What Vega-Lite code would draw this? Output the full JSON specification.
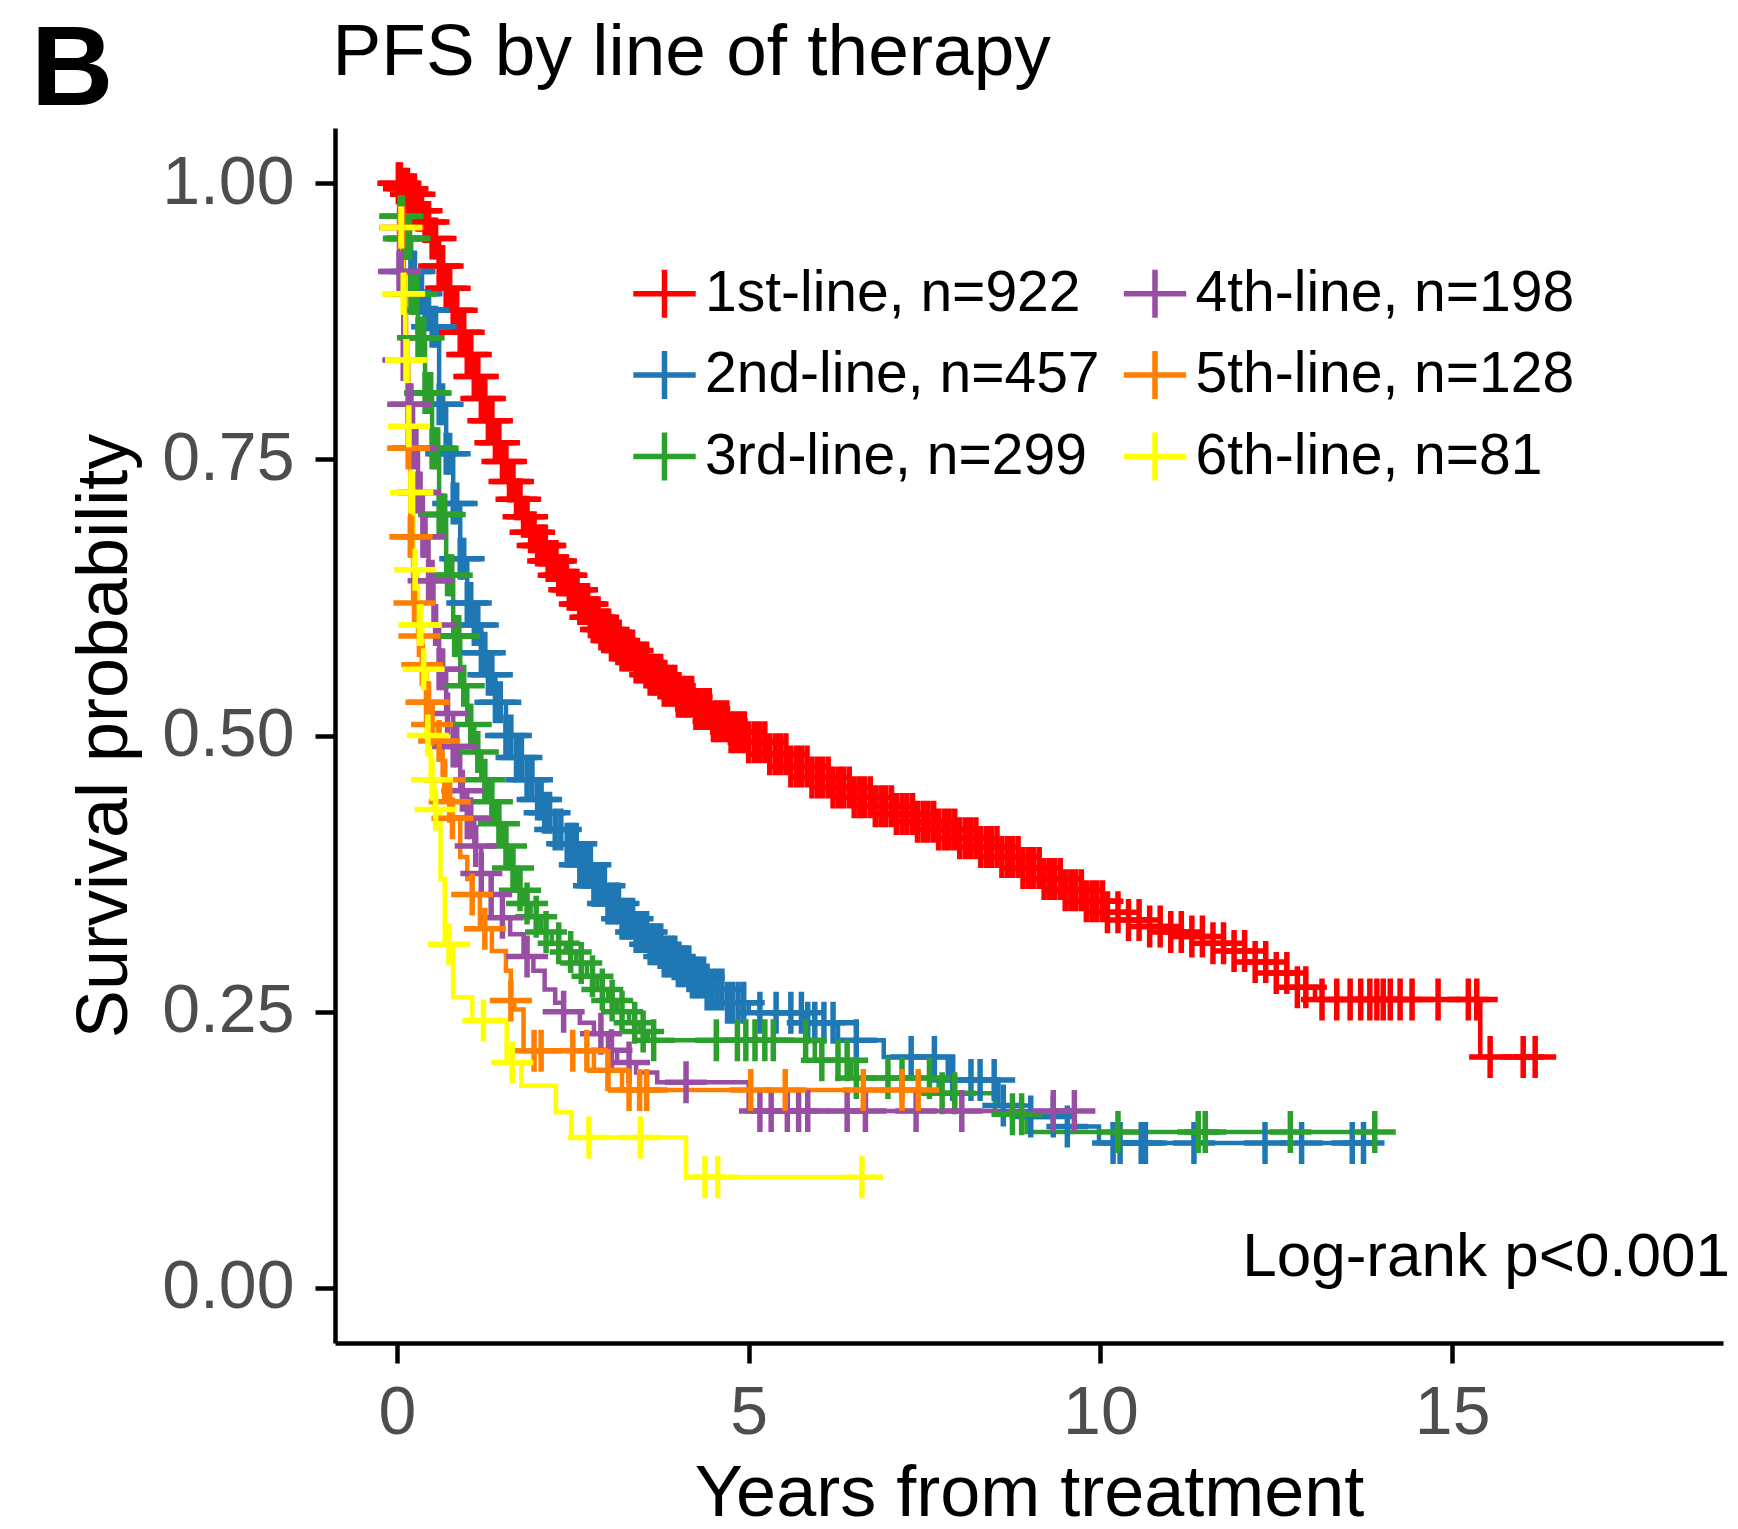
{
"$schema": "https://vega.github.io/schema/vega-lite/v6.json",
"width": 1388,
"height": 1215,
"autosize": {"type": "none"},
"padding": {"left": 335, "top": 128, "right": 15, "bottom": 186},
"background": "white",
"config": {"view": {"stroke": null}, "font": "Liberation Sans"},
"datasets": {
"km": [
{"g":"1st-line, n=922","t":0,"s":1},{"g":"1st-line, n=922","t":0.1,"s":0.995},{"g":"1st-line, n=922","t":0.2,"s":0.99},{"g":"1st-line, n=922","t":0.3,"s":0.975},{"g":"1st-line, n=922","t":0.4,"s":0.965},{"g":"1st-line, n=922","t":0.5,"s":0.95},{"g":"1st-line, n=922","t":0.6,"s":0.925},{"g":"1st-line, n=922","t":0.7,"s":0.905},{"g":"1st-line, n=922","t":0.8,"s":0.885},{"g":"1st-line, n=922","t":0.9,"s":0.865},{"g":"1st-line, n=922","t":1.0,"s":0.845},{"g":"1st-line, n=922","t":1.1,"s":0.825},{"g":"1st-line, n=922","t":1.2,"s":0.805},{"g":"1st-line, n=922","t":1.3,"s":0.785},{"g":"1st-line, n=922","t":1.4,"s":0.765},{"g":"1st-line, n=922","t":1.5,"s":0.748},{"g":"1st-line, n=922","t":1.6,"s":0.73},{"g":"1st-line, n=922","t":1.7,"s":0.714},{"g":"1st-line, n=922","t":1.8,"s":0.698},{"g":"1st-line, n=922","t":1.9,"s":0.684},{"g":"1st-line, n=922","t":2.0,"s":0.672},{"g":"1st-line, n=922","t":2.15,"s":0.658},{"g":"1st-line, n=922","t":2.3,"s":0.645},{"g":"1st-line, n=922","t":2.45,"s":0.632},{"g":"1st-line, n=922","t":2.6,"s":0.619},{"g":"1st-line, n=922","t":2.75,"s":0.607},{"g":"1st-line, n=922","t":2.9,"s":0.596},{"g":"1st-line, n=922","t":3.05,"s":0.586},{"g":"1st-line, n=922","t":3.2,"s":0.577},{"g":"1st-line, n=922","t":3.4,"s":0.566},{"g":"1st-line, n=922","t":3.6,"s":0.555},{"g":"1st-line, n=922","t":3.8,"s":0.545},{"g":"1st-line, n=922","t":4.0,"s":0.535},{"g":"1st-line, n=922","t":4.25,"s":0.524},{"g":"1st-line, n=922","t":4.5,"s":0.513},{"g":"1st-line, n=922","t":4.75,"s":0.503},{"g":"1st-line, n=922","t":5.0,"s":0.494},{"g":"1st-line, n=922","t":5.3,"s":0.483},{"g":"1st-line, n=922","t":5.6,"s":0.472},{"g":"1st-line, n=922","t":5.9,"s":0.462},{"g":"1st-line, n=922","t":6.2,"s":0.453},{"g":"1st-line, n=922","t":6.5,"s":0.444},{"g":"1st-line, n=922","t":6.8,"s":0.436},{"g":"1st-line, n=922","t":7.1,"s":0.429},{"g":"1st-line, n=922","t":7.4,"s":0.422},{"g":"1st-line, n=922","t":7.7,"s":0.415},{"g":"1st-line, n=922","t":8.0,"s":0.407},{"g":"1st-line, n=922","t":8.3,"s":0.399},{"g":"1st-line, n=922","t":8.6,"s":0.39},{"g":"1st-line, n=922","t":8.9,"s":0.38},{"g":"1st-line, n=922","t":9.2,"s":0.37},{"g":"1st-line, n=922","t":9.5,"s":0.36},{"g":"1st-line, n=922","t":9.8,"s":0.35},{"g":"1st-line, n=922","t":10.1,"s":0.34},{"g":"1st-line, n=922","t":10.4,"s":0.333},{"g":"1st-line, n=922","t":10.7,"s":0.327},{"g":"1st-line, n=922","t":11.0,"s":0.322},{"g":"1st-line, n=922","t":11.3,"s":0.318},{"g":"1st-line, n=922","t":11.6,"s":0.312},{"g":"1st-line, n=922","t":11.9,"s":0.305},{"g":"1st-line, n=922","t":12.2,"s":0.295},{"g":"1st-line, n=922","t":12.5,"s":0.285},{"g":"1st-line, n=922","t":12.8,"s":0.272},{"g":"1st-line, n=922","t":13.05,"s":0.261},{"g":"1st-line, n=922","t":15.4,"s":0.209},{"g":"1st-line, n=922","t":16.18,"s":0.209},
{"g":"2nd-line, n=457","t":0,"s":1},{"g":"2nd-line, n=457","t":0.05,"s":0.97},{"g":"2nd-line, n=457","t":0.1,"s":0.95},{"g":"2nd-line, n=457","t":0.2,"s":0.92},{"g":"2nd-line, n=457","t":0.3,"s":0.9},{"g":"2nd-line, n=457","t":0.4,"s":0.885},{"g":"2nd-line, n=457","t":0.5,"s":0.87},{"g":"2nd-line, n=457","t":0.6,"s":0.8},{"g":"2nd-line, n=457","t":0.7,"s":0.755},{"g":"2nd-line, n=457","t":0.8,"s":0.71},{"g":"2nd-line, n=457","t":0.9,"s":0.66},{"g":"2nd-line, n=457","t":1.0,"s":0.62},{"g":"2nd-line, n=457","t":1.1,"s":0.6},{"g":"2nd-line, n=457","t":1.2,"s":0.575},{"g":"2nd-line, n=457","t":1.3,"s":0.555},{"g":"2nd-line, n=457","t":1.4,"s":0.53},{"g":"2nd-line, n=457","t":1.55,"s":0.5},{"g":"2nd-line, n=457","t":1.7,"s":0.48},{"g":"2nd-line, n=457","t":1.85,"s":0.46},{"g":"2nd-line, n=457","t":2.0,"s":0.442},{"g":"2nd-line, n=457","t":2.1,"s":0.43},{"g":"2nd-line, n=457","t":2.25,"s":0.415},{"g":"2nd-line, n=457","t":2.42,"s":0.402},{"g":"2nd-line, n=457","t":2.6,"s":0.383},{"g":"2nd-line, n=457","t":2.8,"s":0.364},{"g":"2nd-line, n=457","t":3.0,"s":0.348},{"g":"2nd-line, n=457","t":3.2,"s":0.334},{"g":"2nd-line, n=457","t":3.4,"s":0.322},{"g":"2nd-line, n=457","t":3.6,"s":0.311},{"g":"2nd-line, n=457","t":3.8,"s":0.3},{"g":"2nd-line, n=457","t":4.0,"s":0.291},{"g":"2nd-line, n=457","t":4.2,"s":0.281},{"g":"2nd-line, n=457","t":4.45,"s":0.27},{"g":"2nd-line, n=457","t":4.7,"s":0.258},{"g":"2nd-line, n=457","t":5.0,"s":0.249},{"g":"2nd-line, n=457","t":5.8,"s":0.24},{"g":"2nd-line, n=457","t":6.27,"s":0.224},{"g":"2nd-line, n=457","t":6.92,"s":0.209},{"g":"2nd-line, n=457","t":7.83,"s":0.188},{"g":"2nd-line, n=457","t":8.55,"s":0.165},{"g":"2nd-line, n=457","t":9.0,"s":0.155},{"g":"2nd-line, n=457","t":9.53,"s":0.146},{"g":"2nd-line, n=457","t":9.98,"s":0.131},{"g":"2nd-line, n=457","t":13.74,"s":0.131},
{"g":"3rd-line, n=299","t":0,"s":1},{"g":"3rd-line, n=299","t":0.05,"s":0.97},{"g":"3rd-line, n=299","t":0.1,"s":0.95},{"g":"3rd-line, n=299","t":0.2,"s":0.9},{"g":"3rd-line, n=299","t":0.3,"s":0.86},{"g":"3rd-line, n=299","t":0.4,"s":0.81},{"g":"3rd-line, n=299","t":0.5,"s":0.76},{"g":"3rd-line, n=299","t":0.6,"s":0.7},{"g":"3rd-line, n=299","t":0.7,"s":0.645},{"g":"3rd-line, n=299","t":0.8,"s":0.59},{"g":"3rd-line, n=299","t":0.9,"s":0.545},{"g":"3rd-line, n=299","t":1.0,"s":0.51},{"g":"3rd-line, n=299","t":1.1,"s":0.485},{"g":"3rd-line, n=299","t":1.2,"s":0.46},{"g":"3rd-line, n=299","t":1.3,"s":0.44},{"g":"3rd-line, n=299","t":1.4,"s":0.42},{"g":"3rd-line, n=299","t":1.5,"s":0.4},{"g":"3rd-line, n=299","t":1.6,"s":0.38},{"g":"3rd-line, n=299","t":1.7,"s":0.36},{"g":"3rd-line, n=299","t":1.8,"s":0.348},{"g":"3rd-line, n=299","t":1.9,"s":0.336},{"g":"3rd-line, n=299","t":2.05,"s":0.322},{"g":"3rd-line, n=299","t":2.2,"s":0.312},{"g":"3rd-line, n=299","t":2.4,"s":0.304},{"g":"3rd-line, n=299","t":2.55,"s":0.294},{"g":"3rd-line, n=299","t":2.7,"s":0.282},{"g":"3rd-line, n=299","t":2.85,"s":0.27},{"g":"3rd-line, n=299","t":3.0,"s":0.26},{"g":"3rd-line, n=299","t":3.13,"s":0.25},{"g":"3rd-line, n=299","t":3.3,"s":0.24},{"g":"3rd-line, n=299","t":3.45,"s":0.232},{"g":"3rd-line, n=299","t":3.57,"s":0.224},{"g":"3rd-line, n=299","t":5.94,"s":0.206},{"g":"3rd-line, n=299","t":6.46,"s":0.19},{"g":"3rd-line, n=299","t":7.7,"s":0.176},{"g":"3rd-line, n=299","t":8.5,"s":0.157},{"g":"3rd-line, n=299","t":8.95,"s":0.141},{"g":"3rd-line, n=299","t":13.9,"s":0.141},
{"g":"4th-line, n=198","t":0,"s":1},{"g":"4th-line, n=198","t":0.03,"s":0.92},{"g":"4th-line, n=198","t":0.09,"s":0.84},{"g":"4th-line, n=198","t":0.16,"s":0.8},{"g":"4th-line, n=198","t":0.23,"s":0.76},{"g":"4th-line, n=198","t":0.3,"s":0.72},{"g":"4th-line, n=198","t":0.37,"s":0.68},{"g":"4th-line, n=198","t":0.45,"s":0.64},{"g":"4th-line, n=198","t":0.52,"s":0.6},{"g":"4th-line, n=198","t":0.6,"s":0.56},{"g":"4th-line, n=198","t":0.7,"s":0.52},{"g":"4th-line, n=198","t":0.8,"s":0.49},{"g":"4th-line, n=198","t":0.9,"s":0.45},{"g":"4th-line, n=198","t":1.0,"s":0.425},{"g":"4th-line, n=198","t":1.1,"s":0.4},{"g":"4th-line, n=198","t":1.2,"s":0.375},{"g":"4th-line, n=198","t":1.34,"s":0.356},{"g":"4th-line, n=198","t":1.5,"s":0.335},{"g":"4th-line, n=198","t":1.61,"s":0.32},{"g":"4th-line, n=198","t":1.8,"s":0.3},{"g":"4th-line, n=198","t":1.94,"s":0.287},{"g":"4th-line, n=198","t":2.1,"s":0.27},{"g":"4th-line, n=198","t":2.25,"s":0.258},{"g":"4th-line, n=198","t":2.37,"s":0.25},{"g":"4th-line, n=198","t":2.6,"s":0.24},{"g":"4th-line, n=198","t":2.8,"s":0.23},{"g":"4th-line, n=198","t":3.0,"s":0.215},{"g":"4th-line, n=198","t":3.13,"s":0.204},{"g":"4th-line, n=198","t":3.4,"s":0.195},{"g":"4th-line, n=198","t":3.7,"s":0.186},{"g":"4th-line, n=198","t":5.0,"s":0.16},{"g":"4th-line, n=198","t":9.63,"s":0.16},
{"g":"5th-line, n=128","t":0,"s":1},{"g":"5th-line, n=128","t":0.05,"s":0.96},{"g":"5th-line, n=128","t":0.1,"s":0.9},{"g":"5th-line, n=128","t":0.13,"s":0.84},{"g":"5th-line, n=128","t":0.16,"s":0.76},{"g":"5th-line, n=128","t":0.19,"s":0.68},{"g":"5th-line, n=128","t":0.23,"s":0.62},{"g":"5th-line, n=128","t":0.3,"s":0.59},{"g":"5th-line, n=128","t":0.36,"s":0.564},{"g":"5th-line, n=128","t":0.42,"s":0.53},{"g":"5th-line, n=128","t":0.5,"s":0.51},{"g":"5th-line, n=128","t":0.58,"s":0.495},{"g":"5th-line, n=128","t":0.65,"s":0.46},{"g":"5th-line, n=128","t":0.72,"s":0.44},{"g":"5th-line, n=128","t":0.79,"s":0.425},{"g":"5th-line, n=128","t":0.9,"s":0.39},{"g":"5th-line, n=128","t":1.0,"s":0.37},{"g":"5th-line, n=128","t":1.07,"s":0.356},{"g":"5th-line, n=128","t":1.18,"s":0.325},{"g":"5th-line, n=128","t":1.35,"s":0.305},{"g":"5th-line, n=128","t":1.55,"s":0.287},{"g":"5th-line, n=128","t":1.62,"s":0.26},{"g":"5th-line, n=128","t":1.67,"s":0.252},{"g":"5th-line, n=128","t":1.8,"s":0.2145},{"g":"5th-line, n=128","t":2.8,"s":0.197},{"g":"5th-line, n=128","t":3.2,"s":0.179},{"g":"5th-line, n=128","t":7.41,"s":0.179},
{"g":"6th-line, n=81","t":0,"s":1},{"g":"6th-line, n=81","t":0.04,"s":0.96},{"g":"6th-line, n=81","t":0.08,"s":0.9},{"g":"6th-line, n=81","t":0.12,"s":0.84},{"g":"6th-line, n=81","t":0.16,"s":0.78},{"g":"6th-line, n=81","t":0.2,"s":0.72},{"g":"6th-line, n=81","t":0.24,"s":0.65},{"g":"6th-line, n=81","t":0.3,"s":0.6},{"g":"6th-line, n=81","t":0.36,"s":0.56},{"g":"6th-line, n=81","t":0.42,"s":0.5},{"g":"6th-line, n=81","t":0.48,"s":0.46},{"g":"6th-line, n=81","t":0.53,"s":0.433},{"g":"6th-line, n=81","t":0.62,"s":0.37},{"g":"6th-line, n=81","t":0.68,"s":0.311},{"g":"6th-line, n=81","t":0.8,"s":0.263},{"g":"6th-line, n=81","t":1.07,"s":0.242},{"g":"6th-line, n=81","t":1.56,"s":0.204},{"g":"6th-line, n=81","t":1.77,"s":0.183},{"g":"6th-line, n=81","t":2.26,"s":0.159},{"g":"6th-line, n=81","t":2.48,"s":0.136},{"g":"6th-line, n=81","t":4.11,"s":0.1},{"g":"6th-line, n=81","t":6.61,"s":0.1}
],
"cens": [
{"g":"1st-line, n=922","t":0.02,"s":1},{"g":"1st-line, n=922","t":0.05,"s":1},{"g":"1st-line, n=922","t":0.1,"s":0.995},{"g":"1st-line, n=922","t":0.15,"s":0.995},{"g":"1st-line, n=922","t":0.2,"s":0.99},{"g":"1st-line, n=922","t":0.25,"s":0.99},{"g":"1st-line, n=922","t":0.3,"s":0.975},{"g":"1st-line, n=922","t":0.35,"s":0.975},{"g":"1st-line, n=922","t":0.4,"s":0.965},{"g":"1st-line, n=922","t":0.45,"s":0.965},{"g":"1st-line, n=922","t":0.5,"s":0.95},{"g":"1st-line, n=922","t":0.55,"s":0.95},{"g":"1st-line, n=922","t":0.6,"s":0.925},{"g":"1st-line, n=922","t":0.65,"s":0.925},{"g":"1st-line, n=922","t":0.7,"s":0.905},{"g":"1st-line, n=922","t":0.75,"s":0.905},{"g":"1st-line, n=922","t":0.8,"s":0.885},{"g":"1st-line, n=922","t":0.85,"s":0.885},{"g":"1st-line, n=922","t":0.9,"s":0.865},{"g":"1st-line, n=922","t":0.95,"s":0.865},{"g":"1st-line, n=922","t":1.0,"s":0.845},{"g":"1st-line, n=922","t":1.05,"s":0.845},{"g":"1st-line, n=922","t":1.1,"s":0.825},{"g":"1st-line, n=922","t":1.15,"s":0.825},{"g":"1st-line, n=922","t":1.2,"s":0.805},{"g":"1st-line, n=922","t":1.25,"s":0.805},{"g":"1st-line, n=922","t":1.3,"s":0.785},{"g":"1st-line, n=922","t":1.35,"s":0.785},{"g":"1st-line, n=922","t":1.4,"s":0.765},{"g":"1st-line, n=922","t":1.45,"s":0.765},{"g":"1st-line, n=922","t":1.5,"s":0.748},{"g":"1st-line, n=922","t":1.55,"s":0.748},{"g":"1st-line, n=922","t":1.6,"s":0.73},{"g":"1st-line, n=922","t":1.65,"s":0.73},{"g":"1st-line, n=922","t":1.7,"s":0.714},{"g":"1st-line, n=922","t":1.75,"s":0.714},{"g":"1st-line, n=922","t":1.8,"s":0.698},{"g":"1st-line, n=922","t":1.85,"s":0.698},{"g":"1st-line, n=922","t":1.9,"s":0.684},{"g":"1st-line, n=922","t":1.95,"s":0.684},{"g":"1st-line, n=922","t":2.0,"s":0.672},{"g":"1st-line, n=922","t":2.04,"s":0.672},{"g":"1st-line, n=922","t":2.08,"s":0.672},{"g":"1st-line, n=922","t":2.11,"s":0.672},{"g":"1st-line, n=922","t":2.15,"s":0.658},{"g":"1st-line, n=922","t":2.19,"s":0.658},{"g":"1st-line, n=922","t":2.22,"s":0.658},{"g":"1st-line, n=922","t":2.26,"s":0.658},{"g":"1st-line, n=922","t":2.3,"s":0.645},{"g":"1st-line, n=922","t":2.34,"s":0.645},{"g":"1st-line, n=922","t":2.38,"s":0.645},{"g":"1st-line, n=922","t":2.41,"s":0.645},{"g":"1st-line, n=922","t":2.45,"s":0.632},{"g":"1st-line, n=922","t":2.49,"s":0.632},{"g":"1st-line, n=922","t":2.52,"s":0.632},{"g":"1st-line, n=922","t":2.56,"s":0.632},{"g":"1st-line, n=922","t":2.6,"s":0.619},{"g":"1st-line, n=922","t":2.64,"s":0.619},{"g":"1st-line, n=922","t":2.68,"s":0.619},{"g":"1st-line, n=922","t":2.71,"s":0.619},{"g":"1st-line, n=922","t":2.75,"s":0.607},{"g":"1st-line, n=922","t":2.79,"s":0.607},{"g":"1st-line, n=922","t":2.82,"s":0.607},{"g":"1st-line, n=922","t":2.86,"s":0.607},{"g":"1st-line, n=922","t":2.9,"s":0.596},{"g":"1st-line, n=922","t":2.94,"s":0.596},{"g":"1st-line, n=922","t":2.98,"s":0.596},{"g":"1st-line, n=922","t":3.01,"s":0.596},{"g":"1st-line, n=922","t":3.05,"s":0.586},{"g":"1st-line, n=922","t":3.09,"s":0.586},{"g":"1st-line, n=922","t":3.12,"s":0.586},{"g":"1st-line, n=922","t":3.16,"s":0.586},{"g":"1st-line, n=922","t":3.2,"s":0.577},{"g":"1st-line, n=922","t":3.25,"s":0.577},{"g":"1st-line, n=922","t":3.3,"s":0.577},{"g":"1st-line, n=922","t":3.35,"s":0.577},{"g":"1st-line, n=922","t":3.4,"s":0.566},{"g":"1st-line, n=922","t":3.45,"s":0.566},{"g":"1st-line, n=922","t":3.5,"s":0.566},{"g":"1st-line, n=922","t":3.55,"s":0.566},{"g":"1st-line, n=922","t":3.6,"s":0.555},{"g":"1st-line, n=922","t":3.65,"s":0.555},{"g":"1st-line, n=922","t":3.7,"s":0.555},{"g":"1st-line, n=922","t":3.75,"s":0.555},{"g":"1st-line, n=922","t":3.8,"s":0.545},{"g":"1st-line, n=922","t":3.85,"s":0.545},{"g":"1st-line, n=922","t":3.9,"s":0.545},{"g":"1st-line, n=922","t":3.95,"s":0.545},{"g":"1st-line, n=922","t":4.0,"s":0.535},{"g":"1st-line, n=922","t":4.06,"s":0.535},{"g":"1st-line, n=922","t":4.12,"s":0.535},{"g":"1st-line, n=922","t":4.19,"s":0.535},{"g":"1st-line, n=922","t":4.25,"s":0.524},{"g":"1st-line, n=922","t":4.31,"s":0.524},{"g":"1st-line, n=922","t":4.38,"s":0.524},{"g":"1st-line, n=922","t":4.44,"s":0.524},{"g":"1st-line, n=922","t":4.5,"s":0.513},{"g":"1st-line, n=922","t":4.56,"s":0.513},{"g":"1st-line, n=922","t":4.62,"s":0.513},{"g":"1st-line, n=922","t":4.69,"s":0.513},{"g":"1st-line, n=922","t":4.75,"s":0.503},{"g":"1st-line, n=922","t":4.81,"s":0.503},{"g":"1st-line, n=922","t":4.88,"s":0.503},{"g":"1st-line, n=922","t":4.94,"s":0.503},{"g":"1st-line, n=922","t":5.0,"s":0.494},{"g":"1st-line, n=922","t":5.08,"s":0.494},{"g":"1st-line, n=922","t":5.15,"s":0.494},{"g":"1st-line, n=922","t":5.23,"s":0.494},{"g":"1st-line, n=922","t":5.3,"s":0.483},{"g":"1st-line, n=922","t":5.38,"s":0.483},{"g":"1st-line, n=922","t":5.45,"s":0.483},{"g":"1st-line, n=922","t":5.53,"s":0.483},{"g":"1st-line, n=922","t":5.6,"s":0.472},{"g":"1st-line, n=922","t":5.68,"s":0.472},{"g":"1st-line, n=922","t":5.75,"s":0.472},{"g":"1st-line, n=922","t":5.83,"s":0.472},{"g":"1st-line, n=922","t":5.9,"s":0.462},{"g":"1st-line, n=922","t":5.98,"s":0.462},{"g":"1st-line, n=922","t":6.05,"s":0.462},{"g":"1st-line, n=922","t":6.13,"s":0.462},{"g":"1st-line, n=922","t":6.2,"s":0.453},{"g":"1st-line, n=922","t":6.28,"s":0.453},{"g":"1st-line, n=922","t":6.35,"s":0.453},{"g":"1st-line, n=922","t":6.43,"s":0.453},{"g":"1st-line, n=922","t":6.5,"s":0.444},{"g":"1st-line, n=922","t":6.58,"s":0.444},{"g":"1st-line, n=922","t":6.65,"s":0.444},{"g":"1st-line, n=922","t":6.73,"s":0.444},{"g":"1st-line, n=922","t":6.8,"s":0.436},{"g":"1st-line, n=922","t":6.88,"s":0.436},{"g":"1st-line, n=922","t":6.95,"s":0.436},{"g":"1st-line, n=922","t":7.03,"s":0.436},{"g":"1st-line, n=922","t":7.1,"s":0.429},{"g":"1st-line, n=922","t":7.18,"s":0.429},{"g":"1st-line, n=922","t":7.25,"s":0.429},{"g":"1st-line, n=922","t":7.33,"s":0.429},{"g":"1st-line, n=922","t":7.4,"s":0.422},{"g":"1st-line, n=922","t":7.48,"s":0.422},{"g":"1st-line, n=922","t":7.55,"s":0.422},{"g":"1st-line, n=922","t":7.63,"s":0.422},{"g":"1st-line, n=922","t":7.7,"s":0.415},{"g":"1st-line, n=922","t":7.78,"s":0.415},{"g":"1st-line, n=922","t":7.85,"s":0.415},{"g":"1st-line, n=922","t":7.93,"s":0.415},{"g":"1st-line, n=922","t":8.0,"s":0.407},{"g":"1st-line, n=922","t":8.08,"s":0.407},{"g":"1st-line, n=922","t":8.15,"s":0.407},{"g":"1st-line, n=922","t":8.23,"s":0.407},{"g":"1st-line, n=922","t":8.3,"s":0.399},{"g":"1st-line, n=922","t":8.38,"s":0.399},{"g":"1st-line, n=922","t":8.45,"s":0.399},{"g":"1st-line, n=922","t":8.53,"s":0.399},{"g":"1st-line, n=922","t":8.6,"s":0.39},{"g":"1st-line, n=922","t":8.68,"s":0.39},{"g":"1st-line, n=922","t":8.75,"s":0.39},{"g":"1st-line, n=922","t":8.83,"s":0.39},{"g":"1st-line, n=922","t":8.9,"s":0.38},{"g":"1st-line, n=922","t":8.98,"s":0.38},{"g":"1st-line, n=922","t":9.05,"s":0.38},{"g":"1st-line, n=922","t":9.13,"s":0.38},{"g":"1st-line, n=922","t":9.2,"s":0.37},{"g":"1st-line, n=922","t":9.28,"s":0.37},{"g":"1st-line, n=922","t":9.35,"s":0.37},{"g":"1st-line, n=922","t":9.43,"s":0.37},{"g":"1st-line, n=922","t":9.5,"s":0.36},{"g":"1st-line, n=922","t":9.58,"s":0.36},{"g":"1st-line, n=922","t":9.65,"s":0.36},{"g":"1st-line, n=922","t":9.73,"s":0.36},{"g":"1st-line, n=922","t":9.8,"s":0.35},{"g":"1st-line, n=922","t":9.88,"s":0.35},{"g":"1st-line, n=922","t":9.95,"s":0.35},{"g":"1st-line, n=922","t":10.03,"s":0.35},{"g":"1st-line, n=922","t":10.1,"s":0.34},{"g":"1st-line, n=922","t":10.25,"s":0.34},{"g":"1st-line, n=922","t":10.4,"s":0.333},{"g":"1st-line, n=922","t":10.55,"s":0.333},{"g":"1st-line, n=922","t":10.7,"s":0.327},{"g":"1st-line, n=922","t":10.85,"s":0.327},{"g":"1st-line, n=922","t":11.0,"s":0.322},{"g":"1st-line, n=922","t":11.15,"s":0.322},{"g":"1st-line, n=922","t":11.3,"s":0.318},{"g":"1st-line, n=922","t":11.45,"s":0.318},{"g":"1st-line, n=922","t":11.6,"s":0.312},{"g":"1st-line, n=922","t":11.75,"s":0.312},{"g":"1st-line, n=922","t":11.9,"s":0.305},{"g":"1st-line, n=922","t":12.05,"s":0.305},{"g":"1st-line, n=922","t":12.2,"s":0.295},{"g":"1st-line, n=922","t":12.35,"s":0.295},{"g":"1st-line, n=922","t":12.5,"s":0.285},{"g":"1st-line, n=922","t":12.65,"s":0.285},{"g":"1st-line, n=922","t":12.8,"s":0.272},{"g":"1st-line, n=922","t":12.92,"s":0.272},{"g":"1st-line, n=922","t":13.15,"s":0.261},{"g":"1st-line, n=922","t":13.36,"s":0.261},{"g":"1st-line, n=922","t":13.55,"s":0.261},{"g":"1st-line, n=922","t":13.7,"s":0.261},{"g":"1st-line, n=922","t":13.83,"s":0.261},{"g":"1st-line, n=922","t":13.93,"s":0.261},{"g":"1st-line, n=922","t":14.02,"s":0.261},{"g":"1st-line, n=922","t":14.12,"s":0.261},{"g":"1st-line, n=922","t":14.26,"s":0.261},{"g":"1st-line, n=922","t":14.43,"s":0.261},{"g":"1st-line, n=922","t":14.8,"s":0.261},{"g":"1st-line, n=922","t":15.23,"s":0.261},{"g":"1st-line, n=922","t":15.35,"s":0.261},{"g":"1st-line, n=922","t":15.54,"s":0.209},{"g":"1st-line, n=922","t":16.01,"s":0.209},{"g":"1st-line, n=922","t":16.18,"s":0.209},
{"g":"2nd-line, n=457","t":0.05,"s":0.97},{"g":"2nd-line, n=457","t":0.1,"s":0.95},{"g":"2nd-line, n=457","t":0.15,"s":0.95},{"g":"2nd-line, n=457","t":0.2,"s":0.92},{"g":"2nd-line, n=457","t":0.25,"s":0.92},{"g":"2nd-line, n=457","t":0.3,"s":0.9},{"g":"2nd-line, n=457","t":0.35,"s":0.9},{"g":"2nd-line, n=457","t":0.4,"s":0.885},{"g":"2nd-line, n=457","t":0.45,"s":0.885},{"g":"2nd-line, n=457","t":0.5,"s":0.87},{"g":"2nd-line, n=457","t":0.55,"s":0.87},{"g":"2nd-line, n=457","t":0.6,"s":0.8},{"g":"2nd-line, n=457","t":0.65,"s":0.8},{"g":"2nd-line, n=457","t":0.7,"s":0.755},{"g":"2nd-line, n=457","t":0.75,"s":0.755},{"g":"2nd-line, n=457","t":0.8,"s":0.71},{"g":"2nd-line, n=457","t":0.85,"s":0.71},{"g":"2nd-line, n=457","t":0.9,"s":0.66},{"g":"2nd-line, n=457","t":0.95,"s":0.66},{"g":"2nd-line, n=457","t":1.0,"s":0.62},{"g":"2nd-line, n=457","t":1.05,"s":0.62},{"g":"2nd-line, n=457","t":1.1,"s":0.6},{"g":"2nd-line, n=457","t":1.15,"s":0.6},{"g":"2nd-line, n=457","t":1.2,"s":0.575},{"g":"2nd-line, n=457","t":1.25,"s":0.575},{"g":"2nd-line, n=457","t":1.3,"s":0.555},{"g":"2nd-line, n=457","t":1.35,"s":0.555},{"g":"2nd-line, n=457","t":1.4,"s":0.53},{"g":"2nd-line, n=457","t":1.47,"s":0.53},{"g":"2nd-line, n=457","t":1.55,"s":0.5},{"g":"2nd-line, n=457","t":1.62,"s":0.5},{"g":"2nd-line, n=457","t":1.7,"s":0.48},{"g":"2nd-line, n=457","t":1.77,"s":0.48},{"g":"2nd-line, n=457","t":1.85,"s":0.46},{"g":"2nd-line, n=457","t":1.92,"s":0.46},{"g":"2nd-line, n=457","t":2.0,"s":0.442},{"g":"2nd-line, n=457","t":2.05,"s":0.442},{"g":"2nd-line, n=457","t":2.1,"s":0.43},{"g":"2nd-line, n=457","t":2.17,"s":0.43},{"g":"2nd-line, n=457","t":2.25,"s":0.415},{"g":"2nd-line, n=457","t":2.33,"s":0.415},{"g":"2nd-line, n=457","t":2.42,"s":0.402},{"g":"2nd-line, n=457","t":2.46,"s":0.402},{"g":"2nd-line, n=457","t":2.5,"s":0.402},{"g":"2nd-line, n=457","t":2.55,"s":0.402},{"g":"2nd-line, n=457","t":2.6,"s":0.383},{"g":"2nd-line, n=457","t":2.65,"s":0.383},{"g":"2nd-line, n=457","t":2.7,"s":0.383},{"g":"2nd-line, n=457","t":2.75,"s":0.383},{"g":"2nd-line, n=457","t":2.8,"s":0.364},{"g":"2nd-line, n=457","t":2.85,"s":0.364},{"g":"2nd-line, n=457","t":2.9,"s":0.364},{"g":"2nd-line, n=457","t":2.95,"s":0.364},{"g":"2nd-line, n=457","t":3.0,"s":0.348},{"g":"2nd-line, n=457","t":3.05,"s":0.348},{"g":"2nd-line, n=457","t":3.1,"s":0.348},{"g":"2nd-line, n=457","t":3.15,"s":0.348},{"g":"2nd-line, n=457","t":3.2,"s":0.334},{"g":"2nd-line, n=457","t":3.25,"s":0.334},{"g":"2nd-line, n=457","t":3.3,"s":0.334},{"g":"2nd-line, n=457","t":3.35,"s":0.334},{"g":"2nd-line, n=457","t":3.4,"s":0.322},{"g":"2nd-line, n=457","t":3.45,"s":0.322},{"g":"2nd-line, n=457","t":3.5,"s":0.322},{"g":"2nd-line, n=457","t":3.55,"s":0.322},{"g":"2nd-line, n=457","t":3.6,"s":0.311},{"g":"2nd-line, n=457","t":3.65,"s":0.311},{"g":"2nd-line, n=457","t":3.7,"s":0.311},{"g":"2nd-line, n=457","t":3.75,"s":0.311},{"g":"2nd-line, n=457","t":3.8,"s":0.3},{"g":"2nd-line, n=457","t":3.85,"s":0.3},{"g":"2nd-line, n=457","t":3.9,"s":0.3},{"g":"2nd-line, n=457","t":3.95,"s":0.3},{"g":"2nd-line, n=457","t":4.0,"s":0.291},{"g":"2nd-line, n=457","t":4.05,"s":0.291},{"g":"2nd-line, n=457","t":4.1,"s":0.291},{"g":"2nd-line, n=457","t":4.15,"s":0.291},{"g":"2nd-line, n=457","t":4.2,"s":0.281},{"g":"2nd-line, n=457","t":4.25,"s":0.281},{"g":"2nd-line, n=457","t":4.3,"s":0.281},{"g":"2nd-line, n=457","t":4.36,"s":0.281},{"g":"2nd-line, n=457","t":4.41,"s":0.27},{"g":"2nd-line, n=457","t":4.48,"s":0.27},{"g":"2nd-line, n=457","t":4.55,"s":0.27},{"g":"2nd-line, n=457","t":4.62,"s":0.27},{"g":"2nd-line, n=457","t":4.7,"s":0.258},{"g":"2nd-line, n=457","t":4.77,"s":0.258},{"g":"2nd-line, n=457","t":4.85,"s":0.258},{"g":"2nd-line, n=457","t":4.93,"s":0.258},{"g":"2nd-line, n=457","t":5.16,"s":0.249},{"g":"2nd-line, n=457","t":5.39,"s":0.249},{"g":"2nd-line, n=457","t":5.6,"s":0.249},{"g":"2nd-line, n=457","t":5.75,"s":0.249},{"g":"2nd-line, n=457","t":5.84,"s":0.24},{"g":"2nd-line, n=457","t":5.94,"s":0.24},{"g":"2nd-line, n=457","t":6.07,"s":0.24},{"g":"2nd-line, n=457","t":6.2,"s":0.24},{"g":"2nd-line, n=457","t":6.53,"s":0.224},{"g":"2nd-line, n=457","t":7.31,"s":0.209},{"g":"2nd-line, n=457","t":7.64,"s":0.209},{"g":"2nd-line, n=457","t":7.9,"s":0.188},{"g":"2nd-line, n=457","t":8.16,"s":0.188},{"g":"2nd-line, n=457","t":8.29,"s":0.188},{"g":"2nd-line, n=457","t":8.49,"s":0.188},{"g":"2nd-line, n=457","t":8.62,"s":0.165},{"g":"2nd-line, n=457","t":9.01,"s":0.155},{"g":"2nd-line, n=457","t":9.33,"s":0.155},{"g":"2nd-line, n=457","t":9.53,"s":0.146},{"g":"2nd-line, n=457","t":10.18,"s":0.131},{"g":"2nd-line, n=457","t":10.28,"s":0.131},{"g":"2nd-line, n=457","t":10.58,"s":0.131},{"g":"2nd-line, n=457","t":10.64,"s":0.131},{"g":"2nd-line, n=457","t":11.33,"s":0.131},{"g":"2nd-line, n=457","t":12.34,"s":0.131},{"g":"2nd-line, n=457","t":12.86,"s":0.131},{"g":"2nd-line, n=457","t":13.58,"s":0.131},{"g":"2nd-line, n=457","t":13.74,"s":0.131},
{"g":"3rd-line, n=299","t":0.05,"s":0.97},{"g":"3rd-line, n=299","t":0.08,"s":0.97},{"g":"3rd-line, n=299","t":0.1,"s":0.95},{"g":"3rd-line, n=299","t":0.12,"s":0.95},{"g":"3rd-line, n=299","t":0.15,"s":0.95},{"g":"3rd-line, n=299","t":0.18,"s":0.95},{"g":"3rd-line, n=299","t":0.2,"s":0.9},{"g":"3rd-line, n=299","t":0.22,"s":0.9},{"g":"3rd-line, n=299","t":0.25,"s":0.9},{"g":"3rd-line, n=299","t":0.28,"s":0.9},{"g":"3rd-line, n=299","t":0.3,"s":0.86},{"g":"3rd-line, n=299","t":0.33,"s":0.86},{"g":"3rd-line, n=299","t":0.35,"s":0.86},{"g":"3rd-line, n=299","t":0.38,"s":0.86},{"g":"3rd-line, n=299","t":0.4,"s":0.81},{"g":"3rd-line, n=299","t":0.42,"s":0.81},{"g":"3rd-line, n=299","t":0.45,"s":0.81},{"g":"3rd-line, n=299","t":0.48,"s":0.81},{"g":"3rd-line, n=299","t":0.5,"s":0.76},{"g":"3rd-line, n=299","t":0.52,"s":0.76},{"g":"3rd-line, n=299","t":0.55,"s":0.76},{"g":"3rd-line, n=299","t":0.58,"s":0.76},{"g":"3rd-line, n=299","t":0.6,"s":0.7},{"g":"3rd-line, n=299","t":0.62,"s":0.7},{"g":"3rd-line, n=299","t":0.65,"s":0.7},{"g":"3rd-line, n=299","t":0.68,"s":0.7},{"g":"3rd-line, n=299","t":0.72,"s":0.645},{"g":"3rd-line, n=299","t":0.75,"s":0.645},{"g":"3rd-line, n=299","t":0.78,"s":0.645},{"g":"3rd-line, n=299","t":0.82,"s":0.59},{"g":"3rd-line, n=299","t":0.85,"s":0.59},{"g":"3rd-line, n=299","t":0.88,"s":0.59},{"g":"3rd-line, n=299","t":0.95,"s":0.545},{"g":"3rd-line, n=299","t":1.05,"s":0.51},{"g":"3rd-line, n=299","t":1.15,"s":0.485},{"g":"3rd-line, n=299","t":1.25,"s":0.46},{"g":"3rd-line, n=299","t":1.35,"s":0.44},{"g":"3rd-line, n=299","t":1.45,"s":0.42},{"g":"3rd-line, n=299","t":1.55,"s":0.4},{"g":"3rd-line, n=299","t":1.65,"s":0.38},{"g":"3rd-line, n=299","t":1.75,"s":0.36},{"g":"3rd-line, n=299","t":1.85,"s":0.348},{"g":"3rd-line, n=299","t":1.98,"s":0.336},{"g":"3rd-line, n=299","t":2.12,"s":0.322},{"g":"3rd-line, n=299","t":2.3,"s":0.312},{"g":"3rd-line, n=299","t":2.47,"s":0.304},{"g":"3rd-line, n=299","t":2.62,"s":0.294},{"g":"3rd-line, n=299","t":2.78,"s":0.282},{"g":"3rd-line, n=299","t":2.92,"s":0.27},{"g":"3rd-line, n=299","t":3.06,"s":0.26},{"g":"3rd-line, n=299","t":3.2,"s":0.25},{"g":"3rd-line, n=299","t":3.38,"s":0.24},{"g":"3rd-line, n=299","t":3.5,"s":0.232},{"g":"3rd-line, n=299","t":3.65,"s":0.224},{"g":"3rd-line, n=299","t":4.54,"s":0.224},{"g":"3rd-line, n=299","t":4.84,"s":0.224},{"g":"3rd-line, n=299","t":4.96,"s":0.224},{"g":"3rd-line, n=299","t":5.09,"s":0.224},{"g":"3rd-line, n=299","t":5.23,"s":0.224},{"g":"3rd-line, n=299","t":5.35,"s":0.224},{"g":"3rd-line, n=299","t":5.81,"s":0.224},{"g":"3rd-line, n=299","t":6.04,"s":0.206},{"g":"3rd-line, n=299","t":6.27,"s":0.206},{"g":"3rd-line, n=299","t":6.4,"s":0.206},{"g":"3rd-line, n=299","t":6.53,"s":0.19},{"g":"3rd-line, n=299","t":6.98,"s":0.19},{"g":"3rd-line, n=299","t":7.18,"s":0.19},{"g":"3rd-line, n=299","t":7.57,"s":0.19},{"g":"3rd-line, n=299","t":7.75,"s":0.176},{"g":"3rd-line, n=299","t":7.93,"s":0.176},{"g":"3rd-line, n=299","t":8.75,"s":0.157},{"g":"3rd-line, n=299","t":8.88,"s":0.157},{"g":"3rd-line, n=299","t":10.25,"s":0.141},{"g":"3rd-line, n=299","t":11.39,"s":0.141},{"g":"3rd-line, n=299","t":11.49,"s":0.141},{"g":"3rd-line, n=299","t":12.7,"s":0.141},{"g":"3rd-line, n=299","t":13.9,"s":0.141},
{"g":"4th-line, n=198","t":0.03,"s":0.92},{"g":"4th-line, n=198","t":0.06,"s":0.92},{"g":"4th-line, n=198","t":0.09,"s":0.84},{"g":"4th-line, n=198","t":0.12,"s":0.84},{"g":"4th-line, n=198","t":0.16,"s":0.8},{"g":"4th-line, n=198","t":0.2,"s":0.8},{"g":"4th-line, n=198","t":0.23,"s":0.76},{"g":"4th-line, n=198","t":0.27,"s":0.76},{"g":"4th-line, n=198","t":0.3,"s":0.72},{"g":"4th-line, n=198","t":0.33,"s":0.72},{"g":"4th-line, n=198","t":0.37,"s":0.68},{"g":"4th-line, n=198","t":0.4,"s":0.68},{"g":"4th-line, n=198","t":0.45,"s":0.64},{"g":"4th-line, n=198","t":0.5,"s":0.64},{"g":"4th-line, n=198","t":0.55,"s":0.6},{"g":"4th-line, n=198","t":0.6,"s":0.56},{"g":"4th-line, n=198","t":0.65,"s":0.56},{"g":"4th-line, n=198","t":0.72,"s":0.52},{"g":"4th-line, n=198","t":0.8,"s":0.49},{"g":"4th-line, n=198","t":0.85,"s":0.49},{"g":"4th-line, n=198","t":0.93,"s":0.45},{"g":"4th-line, n=198","t":1.0,"s":0.425},{"g":"4th-line, n=198","t":1.05,"s":0.425},{"g":"4th-line, n=198","t":1.12,"s":0.4},{"g":"4th-line, n=198","t":1.2,"s":0.375},{"g":"4th-line, n=198","t":1.34,"s":0.356},{"g":"4th-line, n=198","t":1.5,"s":0.335},{"g":"4th-line, n=198","t":1.85,"s":0.3},{"g":"4th-line, n=198","t":2.37,"s":0.25},{"g":"4th-line, n=198","t":2.9,"s":0.23},{"g":"4th-line, n=198","t":3.05,"s":0.215},{"g":"4th-line, n=198","t":3.3,"s":0.204},{"g":"4th-line, n=198","t":4.11,"s":0.186},{"g":"4th-line, n=198","t":5.16,"s":0.16},{"g":"4th-line, n=198","t":5.32,"s":0.16},{"g":"4th-line, n=198","t":5.55,"s":0.16},{"g":"4th-line, n=198","t":5.71,"s":0.16},{"g":"4th-line, n=198","t":5.84,"s":0.16},{"g":"4th-line, n=198","t":6.4,"s":0.16},{"g":"4th-line, n=198","t":6.66,"s":0.16},{"g":"4th-line, n=198","t":7.38,"s":0.16},{"g":"4th-line, n=198","t":8.03,"s":0.16},{"g":"4th-line, n=198","t":9.33,"s":0.16},{"g":"4th-line, n=198","t":9.63,"s":0.16},
{"g":"5th-line, n=128","t":0.05,"s":0.96},{"g":"5th-line, n=128","t":0.08,"s":0.96},{"g":"5th-line, n=128","t":0.1,"s":0.9},{"g":"5th-line, n=128","t":0.11,"s":0.9},{"g":"5th-line, n=128","t":0.13,"s":0.84},{"g":"5th-line, n=128","t":0.14,"s":0.84},{"g":"5th-line, n=128","t":0.16,"s":0.76},{"g":"5th-line, n=128","t":0.17,"s":0.76},{"g":"5th-line, n=128","t":0.19,"s":0.68},{"g":"5th-line, n=128","t":0.21,"s":0.68},{"g":"5th-line, n=128","t":0.25,"s":0.62},{"g":"5th-line, n=128","t":0.32,"s":0.59},{"g":"5th-line, n=128","t":0.36,"s":0.564},{"g":"5th-line, n=128","t":0.42,"s":0.53},{"g":"5th-line, n=128","t":0.45,"s":0.53},{"g":"5th-line, n=128","t":0.5,"s":0.51},{"g":"5th-line, n=128","t":0.6,"s":0.495},{"g":"5th-line, n=128","t":0.68,"s":0.46},{"g":"5th-line, n=128","t":0.75,"s":0.44},{"g":"5th-line, n=128","t":0.79,"s":0.425},{"g":"5th-line, n=128","t":1.07,"s":0.356},{"g":"5th-line, n=128","t":1.25,"s":0.325},{"g":"5th-line, n=128","t":1.62,"s":0.26},{"g":"5th-line, n=128","t":1.95,"s":0.2145},{"g":"5th-line, n=128","t":2.05,"s":0.2145},{"g":"5th-line, n=128","t":2.5,"s":0.2145},{"g":"5th-line, n=128","t":2.7,"s":0.2145},{"g":"5th-line, n=128","t":3.0,"s":0.197},{"g":"5th-line, n=128","t":3.3,"s":0.179},{"g":"5th-line, n=128","t":3.45,"s":0.179},{"g":"5th-line, n=128","t":3.55,"s":0.179},{"g":"5th-line, n=128","t":5.03,"s":0.179},{"g":"5th-line, n=128","t":5.52,"s":0.179},{"g":"5th-line, n=128","t":6.63,"s":0.179},{"g":"5th-line, n=128","t":7.18,"s":0.179},{"g":"5th-line, n=128","t":7.41,"s":0.179},
{"g":"6th-line, n=81","t":0.06,"s":0.96},{"g":"6th-line, n=81","t":0.09,"s":0.9},{"g":"6th-line, n=81","t":0.1,"s":0.9},{"g":"6th-line, n=81","t":0.13,"s":0.84},{"g":"6th-line, n=81","t":0.14,"s":0.84},{"g":"6th-line, n=81","t":0.17,"s":0.78},{"g":"6th-line, n=81","t":0.2,"s":0.72},{"g":"6th-line, n=81","t":0.22,"s":0.72},{"g":"6th-line, n=81","t":0.26,"s":0.65},{"g":"6th-line, n=81","t":0.32,"s":0.6},{"g":"6th-line, n=81","t":0.34,"s":0.6},{"g":"6th-line, n=81","t":0.38,"s":0.56},{"g":"6th-line, n=81","t":0.44,"s":0.5},{"g":"6th-line, n=81","t":0.5,"s":0.46},{"g":"6th-line, n=81","t":0.55,"s":0.433},{"g":"6th-line, n=81","t":0.74,"s":0.311},{"g":"6th-line, n=81","t":1.23,"s":0.242},{"g":"6th-line, n=81","t":1.64,"s":0.204},{"g":"6th-line, n=81","t":2.73,"s":0.136},{"g":"6th-line, n=81","t":3.46,"s":0.136},{"g":"6th-line, n=81","t":4.38,"s":0.1},{"g":"6th-line, n=81","t":4.56,"s":0.1},{"g":"6th-line, n=81","t":6.61,"s":0.1}
]
},
"encoding": {
"x": {"field": "t", "type": "quantitative", "scale": {"domain": [-0.88, 18.85], "nice": false, "zero": false},
"axis": {"values": [0, 5, 10, 15], "format": "d", "grid": false, "domainColor": "black", "domainWidth": 4.5, "tickColor": "black", "tickWidth": 4.5, "tickSize": 20, "labelFontSize": 68, "labelColor": "#4D4D4D", "labelFont": "Liberation Sans", "labelPadding": 16, "labelFlush": false, "labelOverlap": false, "title": "Years from treatment", "titleFontSize": 72, "titleFontWeight": "normal", "titleColor": "black", "titleFont": "Liberation Sans", "titlePadding": 11}},
"y": {"field": "s", "type": "quantitative", "scale": {"domain": [-0.05, 1.05], "nice": false, "zero": false},
"axis": {"values": [0, 0.25, 0.5, 0.75, 1], "format": ".2f", "grid": false, "domainColor": "black", "domainWidth": 4.5, "tickColor": "black", "tickWidth": 4.5, "tickSize": 20, "labelFontSize": 68, "labelColor": "#4D4D4D", "labelFont": "Liberation Sans", "labelPadding": 21, "labelFlush": false, "labelOverlap": false, "title": "Survival probability", "titleFontSize": 72, "titleFontWeight": "normal", "titleColor": "black", "titleFont": "Liberation Sans", "titlePadding": 20}}
},
"layer": [
{"data": {"name": "km"},
"mark": {"type": "line", "interpolate": "step-after", "strokeWidth": 4.5},
"encoding": {"color": {"field": "g", "type": "nominal",
"scale": {"domain": ["1st-line, n=922", "2nd-line, n=457", "3rd-line, n=299", "4th-line, n=198", "5th-line, n=128", "6th-line, n=81"], "range": ["#FF0000", "#1F78B4", "#2CA02C", "#984EA3", "#FF7F00", "#FFFF00"]},
"legend": {"orient": "none", "legendX": 301, "legendY": 137, "columns": 2, "title": null, "symbolType": "M-1.3,0L1.3,0M0,-1L0,1", "symbolSize": 2304, "symbolStrokeWidth": 5.5, "symbolFillColor": "transparent", "labelFontSize": 57, "labelFont": "Liberation Sans", "labelColor": "black", "labelOffset": 12, "rowPadding": 10.5, "columnPadding": 12.5, "padding": 0, "labelLimit": 800}}}},
{"data": {"name": "cens"},
"mark": {"type": "point", "shape": "M-1,0L1,0M0,-1L0,1", "filled": false, "strokeWidth": 5.5, "size": 1764, "opacity": 1},
"encoding": {"color": {"field": "g", "type": "nominal",
"scale": {"domain": ["1st-line, n=922", "2nd-line, n=457", "3rd-line, n=299", "4th-line, n=198", "5th-line, n=128", "6th-line, n=81"], "range": ["#FF0000", "#1F78B4", "#2CA02C", "#984EA3", "#FF7F00", "#FFFF00"]}}}},
{"data": {"values": [{"t": -5.2, "s": 1.0706, "label": "B"}]},
"mark": {"type": "text", "align": "left", "baseline": "alphabetic", "fontSize": 114, "fontWeight": "bold", "font": "Liberation Sans", "color": "black"},
"encoding": {"text": {"field": "label"}}},
{"data": {"values": [{"t": -0.914, "s": 1.0983, "label": "PFS by line of therapy"}]},
"mark": {"type": "text", "align": "left", "baseline": "alphabetic", "fontSize": 73, "font": "Liberation Sans", "color": "black"},
"encoding": {"text": {"field": "label"}}},
{"data": {"values": [{"t": 18.95, "s": 0.0104, "label": "Log-rank p<0.001"}]},
"mark": {"type": "text", "align": "right", "baseline": "alphabetic", "fontSize": 62, "font": "Liberation Sans", "color": "black"},
"encoding": {"text": {"field": "label"}}}
]
}
